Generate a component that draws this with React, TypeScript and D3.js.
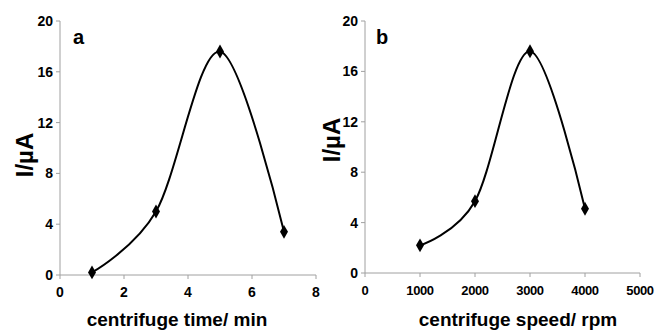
import React, { useRef, useEffect } from 'react';
import * as d3 from 'd3';

// panel a: centrifuge time
const timeMin = [1, 3, 5, 7];
const currentA = [0.2, 5.0, 17.6, 3.4];
// panel b: centrifuge speed
const speedRpm = [1000, 2000, 3000, 4000];
const currentB = [2.2, 5.7, 17.6, 5.1];

const yTicks = [0, 4, 8, 12, 16, 20];
const xTicksA = [0, 2, 4, 6, 8];
const xTicksB = [0, 1000, 2000, 3000, 4000, 5000];

const FONT = '"Liberation Sans", Arial, sans-serif';

function App() {
  const svgRef = useRef<SVGSVGElement>(null);

  useEffect(() => {
    const svg = d3.select(svgRef.current);
    svg.selectAll('*').remove();

    const panels = [
      { xs: timeMin, ys: currentA, ticks: xTicksA, domain: [0, 8], x0: 60, x1: 316, top: 21, bottom: 275, tag: 'a', tagX: 73, yLabX: 33, yLabY: 155, title: 'centrifuge time/ min', titleX: 177, tickSize: 14 },
      { xs: speedRpm, ys: currentB, ticks: xTicksB, domain: [0, 5000], x0: 365, x1: 640, top: 21, bottom: 273, tag: 'b', tagX: 376, yLabX: 340, yLabY: 140, title: 'centrifuge speed/ rpm', titleX: 518, tickSize: 13 },
    ];

    panels.forEach(p => {
      const x = d3.scaleLinear().domain(p.domain).range([p.x0, p.x1]);
      const y = d3.scaleLinear().domain([0, 20]).range([p.bottom, p.top]);
      const g = svg.append('g');

      // axes
      g.append('line').attr('x1', p.x0).attr('x2', p.x0).attr('y1', p.top).attr('y2', p.bottom)
        .attr('stroke', '#a0a0a0').attr('stroke-width', 1);
      g.append('line').attr('x1', p.x0).attr('x2', p.x1).attr('y1', p.bottom).attr('y2', p.bottom)
        .attr('stroke', '#a0a0a0').attr('stroke-width', 1);

      yTicks.forEach(t => {
        g.append('line').attr('x1', p.x0 - 4).attr('x2', p.x0).attr('y1', y(t)).attr('y2', y(t))
          .attr('stroke', '#a0a0a0');
        g.append('text').attr('x', p.x0 - 7).attr('y', y(t)).attr('dy', '0.35em')
          .attr('text-anchor', 'end').attr('font-family', FONT).attr('font-weight', 'bold')
          .attr('font-size', 14).attr('fill', '#000').text(t);
      });

      p.ticks.forEach(t => {
        g.append('line').attr('x1', x(t)).attr('x2', x(t)).attr('y1', p.bottom).attr('y2', p.bottom + 4)
          .attr('stroke', '#a0a0a0');
        g.append('text').attr('x', x(t)).attr('y', p.bottom + 22)
          .attr('text-anchor', 'middle').attr('font-family', FONT).attr('font-weight', 'bold')
          .attr('font-size', p.tickSize).attr('letter-spacing', p.tickSize === 13 ? -0.4 : 0)
          .attr('fill', '#000').text(t);
      });

      // smooth line
      const pts = p.xs.map((v, i) => [x(v), y(p.ys[i])] as [number, number]);
      const line = d3.line().curve(d3.curveCatmullRom.alpha(0));
      g.append('path').attr('d', line(pts)).attr('fill', 'none')
        .attr('stroke', '#000').attr('stroke-width', 2);

      const diamond = d3.symbol().type(d3.symbolDiamond).size(55);
      pts.forEach(pt => {
        g.append('path').attr('d', diamond()).attr('transform', `translate(${pt[0]},${pt[1]})`)
          .attr('fill', '#000');
      });

      // labels
      g.append('text').attr('x', p.tagX).attr('y', 44).attr('font-family', FONT)
        .attr('font-weight', 'bold').attr('font-size', 20).attr('fill', '#000').text(p.tag);
      g.append('text').attr('transform', `translate(${p.yLabX},${p.yLabY}) rotate(-90)`)
        .attr('text-anchor', 'middle').attr('font-family', FONT).attr('font-weight', 'bold')
        .attr('font-size', 24).attr('fill', '#000').text('I/µA');
      g.append('text').attr('x', p.titleX).attr('y', 326).attr('text-anchor', 'middle')
        .attr('font-family', FONT).attr('font-weight', 'bold').attr('font-size', 19)
        .attr('fill', '#000').text(p.title);
    });
  }, []);

  return (
    <svg ref={svgRef} width={655} height={331}
      style={{ position: 'absolute', left: 0, top: 0, background: '#fff' }} />
  );
}

export default App;
